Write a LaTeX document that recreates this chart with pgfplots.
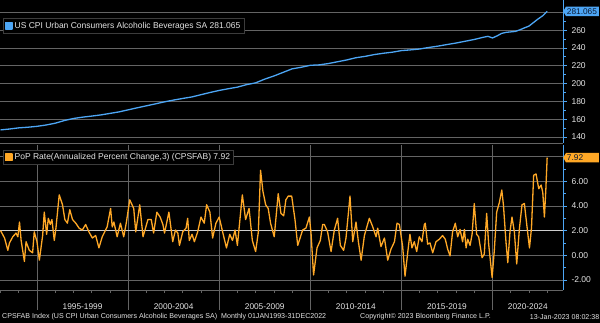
\documentclass[border=0pt]{standalone}
\usepackage{pgfplots}
\pgfplotsset{compat=1.18}
\usepackage{pgfplotstable}
\usepackage{fontspec}
\setmainfont{Liberation Sans}
\usetikzlibrary{shapes.symbols}
\definecolor{bbblue}{RGB}{77,166,245}
\definecolor{bborange}{RGB}{255,168,38}
\definecolor{gridc}{RGB}{100,100,100}
\definecolor{txt}{RGB}{228,228,228}
\definecolor{hl}{RGB}{205,205,205}
\definecolor{boxtxt}{RGB}{10,25,50}
\tikzset{valbox/.style={signal, signal to=west, signal pointer angle=120, fill=#1, text=boxtxt,
    inner xsep=1pt, inner ysep=1.8pt, font=\fontsize{8.3}{10}\selectfont, anchor=west}}

\pgfplotstableread{
x y
1993.00 148.0
1993.50 149.0
1994.00 150.3
1994.50 151.0
1995.00 152.0
1995.50 153.5
1996.00 155.5
1996.50 158.5
1997.00 160.8
1997.50 162.3
1998.00 163.5
1998.50 164.8
1999.00 166.5
1999.50 168.2
2000.00 170.5
2000.50 172.8
2001.00 175.0
2001.50 177.2
2002.00 179.5
2002.50 181.5
2003.00 183.3
2003.50 185.0
2004.00 187.5
2004.50 190.0
2005.00 192.3
2005.50 194.2
2006.00 196.0
2006.50 198.8
2007.00 200.8
2007.50 205.0
2008.00 208.5
2008.50 212.5
2009.00 216.5
2009.50 218.3
2010.00 220.5
2010.50 221.0
2011.00 222.5
2011.50 224.5
2012.00 226.5
2012.50 229.0
2013.00 230.5
2013.50 232.5
2014.00 234.0
2014.50 235.2
2015.00 237.0
2015.50 237.8
2016.00 238.8
2016.50 240.5
2017.00 242.0
2017.50 243.8
2018.00 245.5
2018.50 247.5
2019.00 249.5
2019.50 252.0
2019.75 253.0
2020.00 251.2
2020.25 253.5
2020.50 256.3
2020.75 257.5
2021.00 258.0
2021.25 258.5
2021.50 260.3
2021.75 262.5
2022.00 264.5
2022.25 268.5
2022.50 272.5
2022.75 276.0
2023.00 281.065
}\cpi

\pgfplotstableread{
x y
1993.00 2.0
1993.22 1.4
1993.40 0.4
1993.49 1.0
1993.67 1.5
1993.85 1.8
1993.95 1.5
1994.04 2.7
1994.13 1.2
1994.31 -0.5
1994.40 1.1
1994.58 0.4
1994.76 0.2
1994.85 1.9
1995.00 1.1
1995.13 -0.4
1995.31 1.6
1995.40 3.5
1995.53 1.7
1995.62 3.0
1995.73 2.5
1995.82 2.9
1995.95 1.2
1996.04 2.2
1996.22 4.9
1996.40 4.1
1996.53 2.9
1996.67 2.6
1996.80 3.7
1996.95 2.9
1997.13 2.6
1997.31 2.2
1997.49 2.05
1997.67 2.5
1997.85 1.9
1998.04 1.4
1998.22 1.6
1998.40 0.6
1998.58 1.5
1998.85 2.3
1999.04 3.8
1999.13 2.3
1999.22 2.7
1999.40 1.5
1999.58 2.6
1999.76 1.5
1999.91 2.7
2000.09 4.5
2000.31 3.8
2000.42 1.9
2000.64 4.1
2000.82 1.5
2001.09 2.9
2001.27 2.9
2001.40 1.8
2001.58 3.5
2001.76 3.1
2001.91 2.5
2002.00 1.8
2002.24 3.5
2002.45 1.1
2002.60 2.05
2002.73 1.8
2002.82 0.8
2003.00 1.9
2003.18 2.2
2003.27 3.0
2003.36 1.2
2003.51 1.7
2003.64 1.1
2003.82 1.9
2004.00 3.1
2004.18 2.6
2004.31 4.1
2004.49 3.5
2004.64 1.4
2004.82 2.6
2005.00 3.1
2005.22 1.7
2005.40 0.6
2005.58 1.7
2005.73 1.2
2005.87 2.05
2006.00 0.8
2006.27 4.9
2006.45 2.9
2006.64 3.8
2006.82 1.2
2007.00 0.3
2007.15 1.9
2007.27 6.9
2007.40 5.2
2007.55 4.1
2007.69 3.8
2007.82 2.6
2008.02 1.5
2008.24 5.0
2008.39 3.4
2008.54 3.2
2008.66 4.5
2008.79 4.8
2008.98 4.8
2009.16 2.9
2009.31 0.8
2009.58 2.05
2009.76 2.2
2009.95 3.1
2010.04 1.8
2010.18 -1.6
2010.37 0.6
2010.55 1.2
2010.68 2.5
2010.77 2.5
2010.95 1.9
2011.14 0.3
2011.32 2.05
2011.50 3.0
2011.65 0.8
2011.83 0.4
2011.96 1.4
2012.18 4.8
2012.33 1.1
2012.51 2.7
2012.64 1.1
2012.79 -0.4
2012.97 1.6
2013.24 3.0
2013.43 2.3
2013.61 1.5
2013.70 2.2
2013.88 0.7
2014.07 1.4
2014.25 -0.4
2014.43 0.5
2014.62 1.1
2014.76 2.6
2014.89 2.5
2015.07 0.7
2015.20 -1.7
2015.40 0.9
2015.47 1.7
2015.58 0.6
2015.71 1.1
2015.84 0.3
2015.98 1.5
2016.13 1.1
2016.26 2.5
2016.31 2.6
2016.44 0.9
2016.57 1.0
2016.72 0.2
2016.90 1.1
2017.08 1.3
2017.26 1.6
2017.41 1.3
2017.54 0.5
2017.67 -0.05
2017.81 1.9
2017.96 2.6
2018.09 1.5
2018.22 2.1
2018.36 1.1
2018.46 2.1
2018.55 0.6
2018.64 1.3
2018.77 0.8
2018.88 1.7
2019.00 4.2
2019.13 1.7
2019.24 1.5
2019.43 -0.2
2019.55 0.1
2019.68 3.4
2019.79 0.9
2019.98 -1.8
2020.10 0.4
2020.23 3.5
2020.38 4.3
2020.51 5.3
2020.60 4.1
2020.74 1.1
2020.84 -0.6
2020.96 1.9
2021.07 3.1
2021.20 1.9
2021.33 -0.7
2021.48 2.2
2021.62 4.1
2021.75 4.2
2021.88 2.5
2022.03 0.6
2022.14 2.2
2022.26 6.5
2022.39 6.6
2022.54 5.4
2022.67 5.7
2022.76 5.1
2022.85 3.1
2022.93 5.4
2023.00 7.92
}\pop

\begin{document}
\begin{tikzpicture}
\fill[black] (0pt,0pt) rectangle (600pt,-323pt);
\path[use as bounding box] (0pt,0pt) rectangle (600pt,-323pt);

\pgfplotsset{
  bbstyle/.style={
    scale only axis, width=563pt, clip=false,
    xmin=1992.97, xmax=2023.87,
    axis x line*=bottom, axis y line*=right,
    x axis line style={gridc,-, line width=0.6pt},
    y axis line style={bbblue,-, line width=0.8pt},
    ytick style={bbblue, line width=0.8pt},
    xtick style={gridc, line width=0.6pt},
    tick align=outside, major tick length=4pt, minor tick length=2.5pt,
    minor y tick num=1,
    ymajorgrids, major grid style={gridc, line width=0.6pt},
    yticklabel style={text=txt, font=\fontsize{8.5}{10}\selectfont, xshift=1pt},
    legend cell align=left,
    legend image code/.code={\fill[##1] (0pt,-3.4pt) rectangle (6.8pt,3.4pt);},
  },
}

\begin{axis}[bbstyle,
  at={(0pt,0pt)}, anchor=north west, height=143pt,
  ymin=133.3, ymax=293.8,
  xtick=\empty,
  ytick={140,160,180,200,220,240,260,280},
  yticklabels={140,160,180,200,220,240,260,{}},
  legend style={at={(0.005,0.82)}, anchor=west, fill=black, draw=gridc!60!black,
    text=txt, font=\fontsize{8.5}{10}\selectfont, inner sep=1.5pt},
]
\addplot[bbblue, line width=1.3pt, line join=round] table[x=x,y=y] {\cpi};
\addlegendentry{US CPI Urban Consumers Alcoholic Beverages SA 281.065}
\node[valbox=bbblue] at (axis cs:2023.87,281.065) {\makebox[31pt][l]{281.065}};
\end{axis}

\begin{axis}[bbstyle,
  at={(0pt,-145pt)}, anchor=north west, height=145pt,
  ymin=-2.82, ymax=8.95,
  xtick={1995,2000,2005,2010,2015,2020}, xticklabels={},
  minor xtick={1993,1994,...,2023},
  xmajorgrids,
  ytick={-2,0,2,4,6,8},
  yticklabels={-2.00,0.00,2.00,4.00,6.00,{}},
  legend style={at={(0.005,0.915)}, anchor=west, fill=black, draw=gridc!60!black,
    text=txt, font=\fontsize{8.5}{10}\selectfont, inner sep=1.5pt},
]
\addplot[hl, line width=0.9pt, forget plot] coordinates {(1992.97,2) (2023.87,2)};
\addplot[bborange, line width=1.3pt, line join=round] table[x=x,y=y] {\pop};
\addlegendentry{PoP Rate(Annualized Percent Change,3) (CPSFAB) 7.92}
\node[valbox=bborange] at (axis cs:2023.87,7.92) {\makebox[31pt][l]{7.92}};
\pgfplotsinvokeforeach{1995,2000,2005,2010,2015,2020}{
  \draw[gridc, line width=0.6pt] (axis cs:#1,-2.82) -- ++(0pt,-20pt);
}
\foreach \xx/\lab in {1997.5/1995-1999,2002.5/2000-2004,2007.5/2005-2009,2012.5/2010-2014,2017.5/2015-2019,2021.94/2020-2024}{
  \edef\tmp{\noexpand\node[text=txt, font=\noexpand\fontsize{8.3}{10}\noexpand\selectfont, anchor=center]
    at (axis cs:\xx,-2.82) [yshift=-16.5pt] {\lab};}
  \tmp
}
\end{axis}

\node[anchor=west, text=txt, font=\fontsize{7.1}{9}\selectfont, inner sep=0pt] at (2pt,-317pt)
  {CPSFAB Index (US CPI Urban Consumers Alcoholic Beverages SA)\hspace{4pt}Monthly 01JAN1993-31DEC2022};
\node[anchor=west, text=txt, font=\fontsize{7.1}{9}\selectfont, inner sep=0pt] at (360pt,-317pt)
  {Copyright\textcopyright{} 2023 Bloomberg Finance L.P.};
\node[anchor=east, text=txt, font=\fontsize{7.1}{9}\selectfont, inner sep=0pt] at (599.5pt,-317pt)
  {13-Jan-2023 08:02:38};
\end{tikzpicture}
\end{document}
